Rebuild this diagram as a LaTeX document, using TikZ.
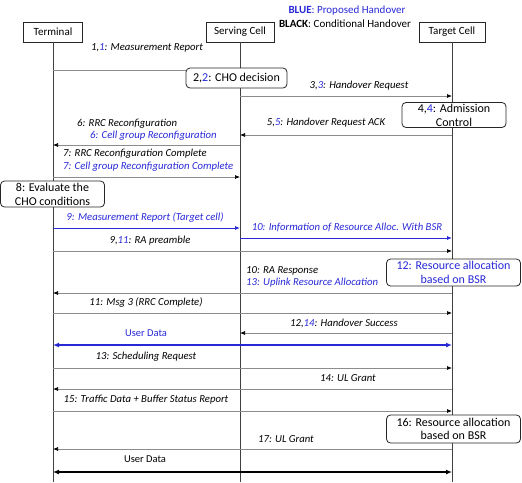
\documentclass[tikz,border=0pt]{standalone}
\usepackage{fontspec}
\setmainfont{Carlito}
\usetikzlibrary{arrows.meta}
\definecolor{bl}{RGB}{40,40,215}
\definecolor{ln}{RGB}{140,140,140}
\begin{document}
\begin{tikzpicture}[x=1pt,y=-1pt,
  lbl/.style={font=\fontsize{10.7}{12}\selectfont\itshape, inner sep=0pt},
  plain/.style={font=\fontsize{10.5}{12}\selectfont, inner sep=0pt},
  msg/.style={draw=ln, line width=0.7pt, -{Latex[length=5pt,width=4pt,color=black]}},
  bmsg/.style={draw=bl, line width=0.8pt, -{Latex[length=5pt,width=4pt]}},
  dbl/.style={line width=1.8pt, {Latex[length=6pt,width=5pt]}-{Latex[length=6pt,width=5pt]}},
  hdr/.style={draw=black!85, line width=0.8pt, fill=white, minimum height=20pt, inner sep=0pt, font=\fontsize{11}{13}\selectfont},
  evt/.style={draw=black!85, line width=0.8pt, fill=white, rounded corners=4pt, align=center, inner sep=0pt, font=\fontsize{12}{14}\selectfont},
  life/.style={draw=black!75, line width=0.8pt}]
\useasboundingbox (0,0) rectangle (522,482);
% legend
\node[font=\fontsize{11}{13}\selectfont, inner sep=0pt] (leg1) at (347,11) {\color{bl}\textbf{BLUE}: Proposed Handover};
\node[font=\fontsize{11}{13}\selectfont, inner sep=0pt] (leg2) at (345,24) {\textbf{BLACK}: Conditional Handover};
% headers
\node[hdr, minimum width=59pt] (term) at (53,32) {Terminal};
\node[hdr, minimum width=68pt] (serv) at (240,32) {Serving Cell};
\node[hdr, minimum width=66pt] (targ) at (452,32) {Target Cell};
% lifelines
\coordinate (termend) at (53,482);
\coordinate (servend) at (240,482);
\coordinate (targend) at (452,482);
\draw[life] (term.south) -- (termend);
\draw[life] (serv.south) -- (servend);
\draw[life] (targ.south) -- (targend);
% 1
\node[lbl] (l1) at (147,48) {1,{\color{bl}1}: Measurement Report};
\draw[msg] (term |- 0,70) -- (serv |- 0,70);
% 2
\node[evt, minimum width=101pt, minimum height=20pt] (cho) at (236.5,78) {2,{\color{bl}2}: CHO decision};
% 3
\node[lbl] (l3) at (359,86) {3,{\color{bl}3}: Handover Request};
\draw[msg] (serv |- 0,96) -- (targ |- 0,96);
% 4
\node[evt, minimum width=104pt, minimum height=25pt] (adm) at (454,115) {4,{\color{bl}4}: Admission\\Control};
% 5
\node[lbl] (l5) at (326,123) {5,{\color{bl}5}: Handover Request ACK};
\draw[msg] (targ |- 0,135) -- (serv |- 0,135);
% 6
\node[lbl, anchor=west] (l6a) at (77,124) {6: RRC Reconfiguration};
\node[lbl, anchor=west, text=bl] (l6b) at (90,136) {6: Cell group Reconfiguration};
\draw[msg] (serv |- 0,145) -- (term |- 0,145);
% 7
\node[lbl, anchor=west] (l7a) at (63,154) {7: RRC Reconfiguration Complete};
\node[lbl, anchor=west, text=bl] (l7b) at (63,167) {7: Cell group Reconfiguration Complete};
\draw[msg] (term |- 0,177) -- (serv |- 0,177);
% 8
\node[evt, minimum width=104pt, minimum height=26pt] (eval) at (52.5,194) {8: Evaluate the\\CHO conditions};
% 9
\node[lbl, text=bl] (l9) at (145,218) {9: Measurement Report (Target cell)};
\draw[bmsg] (term |- 0,228) -- (serv |- 0,228);
% 10
\node[lbl, text=bl] (l10) at (347,227) {10: Information of Resource Alloc. With BSR};
\draw[bmsg] (serv |- 0,238) -- (targ |- 0,238);
% 11
\node[lbl] (l11) at (150,241) {9,{\color{bl}11}: RA preamble};
\draw[msg] (term |- 0,251) -- (targ |- 0,251);
% 12
\node[evt, minimum width=134pt, minimum height=27pt, text=bl, font=\fontsize{12}{13.5}\selectfont] (res1) at (453.5,272.5) {12: Resource allocation\\based on BSR};
% 13
\node[lbl, anchor=west] (l13a) at (246,271) {10: RA Response};
\node[lbl, anchor=west, text=bl] (l13b) at (246,283) {13: Uplink Resource Allocation};
\draw[msg] (targ |- 0,293) -- (term |- 0,293);
% 14
\node[lbl] (l14) at (146,303) {11: Msg 3 (RRC Complete)};
\draw[msg] (term |- 0,313) -- (targ |- 0,313);
% 15
\node[lbl] (l15) at (344,323) {12,{\color{bl}14}: Handover Success};
\draw[msg] (targ |- 0,333) -- (serv |- 0,333);
% 16
\node[plain, text=bl] (l16) at (146,333) {User Data};
\draw[dbl, draw=bl, fill=bl] (term |- 0,345) -- (targ |- 0,345);
% 17
\node[lbl] (l17) at (146,357) {13: Scheduling Request};
\draw[msg] (term |- 0,368) -- (targ |- 0,368);
% 18
\node[lbl] (l18) at (348,378) {14: UL Grant};
\draw[msg] (targ |- 0,389) -- (term |- 0,389);
% 19
\node[lbl] (l19) at (146,400) {15: Traffic Data + Buffer Status Report};
\draw[msg] (term |- 0,411) -- (targ |- 0,411);
% 20
\node[evt, minimum width=134pt, minimum height=28pt, font=\fontsize{12}{13.5}\selectfont] (res2) at (453.5,429) {16: Resource allocation\\based on BSR};
% 21
\node[lbl] (l21) at (286,439) {17: UL Grant};
\draw[msg] (targ |- 0,449) -- (term |- 0,449);
% 22
\node[plain] (l22) at (145,459) {User Data};
\draw[dbl, draw=black, fill=black] (term |- 0,472) -- (targ |- 0,472);
\end{tikzpicture}
\end{document}
